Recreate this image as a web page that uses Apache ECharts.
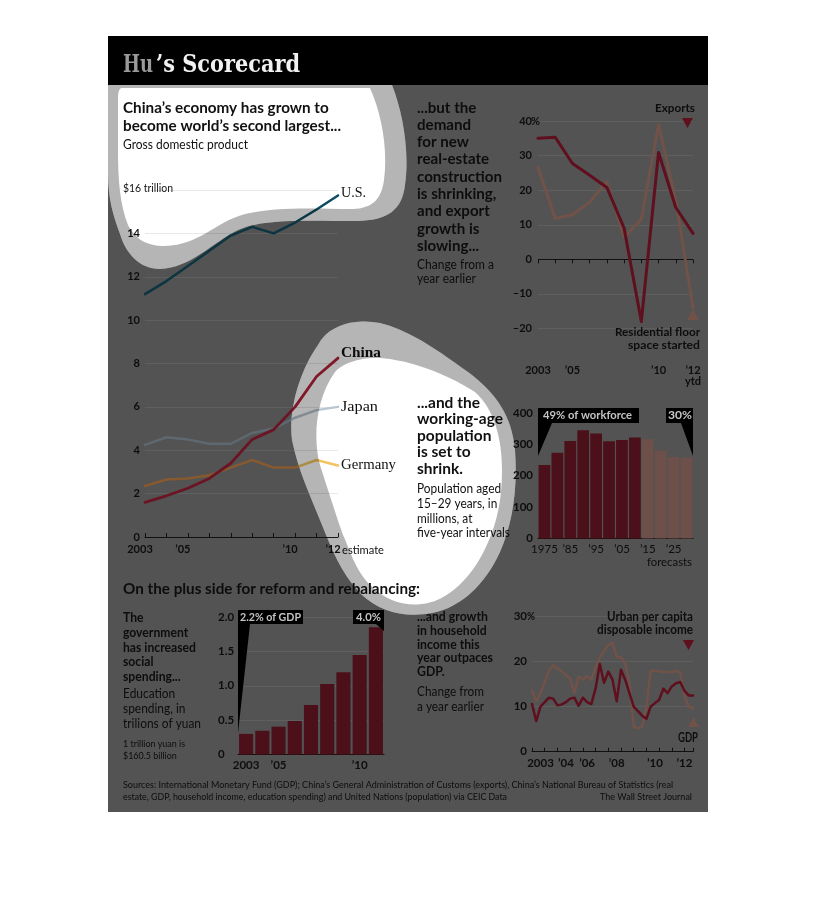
<!DOCTYPE html>
<html><head><meta charset="utf-8">
<script src="https://cdn.jsdelivr.net/npm/echarts@6/dist/echarts.min.js"></script>
<style>
html,body{margin:0;padding:0;background:#fff;}
#wrap{position:relative;width:816px;height:906px;overflow:hidden;}
.layer{position:absolute;left:0;top:0;width:816px;height:906px;}
</style></head>
<body><div id="wrap"><div id="dark" class="layer"></div><div id="light" class="layer"></div><div id="ring" class="layer"></div></div>
<script>
// ---------- DATA ----------
const gdpYears = ['2003','2004','2005','2006','2007','2008','2009','2010','2011','2012'];
const gdpTickLabels = {'2003':'2003','2005':'’05','2010':'’10','2012':'’12'};
const gdpUS      = [11.2, 11.8, 12.5, 13.2, 13.9, 14.3, 14.0, 14.5, 15.1, 15.75];
const gdpChina   = [1.6, 1.9, 2.25, 2.7, 3.4, 4.5, 4.95, 6.0, 7.4, 8.25];
const gdpJapan   = [4.25, 4.6, 4.5, 4.3, 4.3, 4.8, 5.0, 5.5, 5.85, 6.0];
const gdpGermany = [2.35, 2.65, 2.7, 2.85, 3.2, 3.55, 3.2, 3.2, 3.55, 3.3];

const expYears = ['2003','2004','2005','2006','2007','2008','2009','2010','2011','2012'];
const expTickLabels = {'2003':'2003','2005':'’05','2010':'’10','2012':'’12\nytd'};
const exportsGrowth     = [35.0, 35.3, 27.7, 24.3, 20.8, 9, -18, 30.9, 15, 7.5];
const residentialGrowth = [26.6, 11.8, 12.9, 16.5, 22.5, 6.4, 11.6, 39, 17, -14];

const popYears = ['1975','1980','1985','1990','1995','2000','2005','2010','2015','2020','2025','2030'];
const popTickLabels = {'1975':'1975','1985':'’85','1995':'’95','2005':'’05','2015':'’15','2025':'’25'};
const popValues = [234, 273, 311, 345, 335, 310, 314, 322, 316, 280, 260, 257];
const popForecastFrom = '2015';

const eduYears = ['2003','2004','2005','2006','2007','2008','2009','2010','2011'];
const eduTickLabels = {'2003':'2003','2005':'’05','2010':'’10'};
const eduValues = [0.3, 0.345, 0.405, 0.487, 0.72, 1.025, 1.196, 1.447, 1.85];

const hhQuarters = ['03Q1','03Q2','03Q3','03Q4','04Q1','04Q2','04Q3','04Q4','05Q1','05Q2','05Q3','05Q4',
  '06Q1','06Q2','06Q3','06Q4','07Q1','07Q2','07Q3','07Q4','08Q1','08Q2','08Q3','08Q4',
  '09Q1','09Q2','09Q3','09Q4','10Q1','10Q2','10Q3','10Q4','11Q1','11Q2','11Q3','11Q4','12Q1','12Q2','12Q3'];
const hhTickLabels = {'03Q3':'2003','05Q1':'’04','06Q2':'’06','08Q1':'’08','10Q2':'’10','12Q1':'’12'};
const hhUrban = [10.6,6.8,10,11,12,11.8,10.3,10.5,11,11.8,12,10.2,12,11,10.6,14,19.5,15.3,17.8,16,11.2,18.2,16,13,10,9,8,7.3,10,10.8,11.5,14,13,14.5,15.2,15.5,13.5,12.5,12.5];
const hhGDP   = [13.6,11.2,13,15.5,18,19.2,18.5,17.8,17,16.3,13,16.7,16,16.8,16,18.8,20.9,22.4,23.7,24.2,21,21,19.5,15.5,5.6,5.2,5.6,10,18,18,17.8,17.7,17.7,17.7,18,17.6,12.4,10,9.6];

// ---------- THEMES ----------
const TH = {
  dark:{bg:'#535353', text:'#0d0d0d', grid:'#5f5f5f', axis:'#111', us:'#0c3541', china:'#6b1424', japan:'#5d6870', germany:'#87592f',
        exp:'#5f0f1d', res:'#715249', bar:'#4b1019', barF:'#6d504a', callText:'#c4c4c4', hu:'#9a9a9a', title:'#f2f2f2'},
  light:{bg:'#ffffff', text:'#111', grid:'#e8e8e8', axis:'#222', us:'#0c4d62', china:'#b5223b', japan:'#b9c6d0', germany:'#f2c462',
        exp:'#a01c34', res:'#c09080', bar:'#7a1a28', barF:'#b08878', callText:'#fff', hu:'#9a9a9a', title:'#fff'}
};

const mctx = document.createElement('canvas').getContext('2d');
function fit(s, font, w){ mctx.font = font; const m = mctx.measureText(s).width; return m > 0 ? w / m : 1; }

function build(th){
  const G = [];
  const rect = (x,y,w,h,fill,z) => ({type:'rect', z:z, silent:true, shape:{x:x,y:y,width:w,height:h}, style:{fill:fill}});
  const poly = (pts, fill) => ({type:'polygon', z:90, silent:true, shape:{points:pts}, style:{fill:fill}});
  const text = (x,y,s,font,o) => { o = o || {}; const sx = o.w ? fit(s,font,o.w) : (o.sx || 1);
    return {type:'text', z:100, x:x, y:y, scaleX:sx, silent:true,
      style:{text:s, font:font, fill:o.fill || th.text, textAlign:o.align || 'left', textVerticalAlign:'middle'}}; };
  const block = (x,y0,dy,lines,font,refIdx,refW,o) => { const sx = fit(lines[refIdx],font,refW);
    lines.forEach((s,i) => G.push(text(x, y0 + dy*i, s, font, Object.assign({sx:sx}, o || {})))); };

  // frame
  G.push(rect(108,85,600,727,th.bg,-10));
  G.push(rect(108,36,600,49,'#000',-9));
  G.push(text(123,65,'Hu','bold 25px "DejaVu Serif"',{w:30, fill:th.hu}));
  G.push(text(156,65,'’s Scorecard','bold 25px "DejaVu Serif"',{w:144, fill:th.title}));

  // GDP block
  block(123,108,17.5,['China’s economy has grown to','become world’s second largest...'],'bold 16px Lato',1,218);
  G.push(text(123,145,'Gross domestic product','12.5px Lato',{w:125}));
  G.push(text(123,188,'$16 trillion','11px Lato',{w:50}));
  G.push(text(341,193,'U.S.','15px "Liberation Serif"',{w:25}));
  G.push(text(341,353,'China','bold 15px "Liberation Serif"',{w:40}));
  G.push(text(341,407,'Japan','15px "Liberation Serif"',{w:37}));
  G.push(text(341,465,'Germany','15px "Liberation Serif"',{w:55}));
  G.push(text(342,550,'estimate','11.5px Lato',{w:42}));

  // Exports block
  block(417,107.7,17.3,['...but the','demand','for new','real-estate','construction','is shrinking,','and export','growth is','slowing...'],'bold 15px Lato',4,85);
  block(417,265,14,['Change from a','year earlier'],'12.5px Lato',0,77);
  G.push(text(695,107.7,'Exports','bold 12px Lato',{w:40, align:'right'}));
  G.push(poly([[682,118],[693,118],[687.5,128]], th.exp));
  G.push(poly([[687,320],[699,320],[693,309]], th.res));
  G.push(text(700,332.3,'Residential floor','bold 12px Lato',{w:85, align:'right'}));
  G.push(text(700,345,'space started','bold 12px Lato',{w:72, align:'right'}));
  G.push(text(531,121,'%','bold 11px Lato',{w:9}));

  // Population block
  block(417,402.7,16.6,['...and the','working-age','population','is set to','shrink.'],'bold 15px Lato',1,86);
  block(417,489,14.8,['Population aged','15–29 years, in','millions, at','five-year intervals'],'12.5px Lato',3,93);
  G.push(text(692,561.7,'forecasts','12px Lato',{w:45, align:'right'}));
  G.push(poly([[538,408],[639,408],[639,423],[552,423],[538,456]],'#000'));
  G.push(poly([[666,408],[693,408],[693,456],[681,423],[666,423]],'#000'));
  G.push(text(543,415.5,'49% of workforce','bold 11.5px Lato',{w:89, fill:th.callText}));
  G.push(text(668,415.5,'30%','bold 11.5px Lato',{w:24, fill:th.callText}));

  G.push(text(123,589,'On the plus side for reform and rebalancing:','bold 15.5px Lato',{w:297}));

  // Education block
  block(123,617.3,14.85,['The','government','has increased','social','spending...'],'bold 14px Lato',2,73);
  block(123,694.3,15,['Education','spending, in','trilions of yuan'],'13px Lato',2,78);
  block(123,744.3,11.4,['1 trillion yuan is','$160.5 billion'],'9.5px Lato',0,62);
  G.push(poly([[238,610],[303,610],[303,624],[250,624],[238,733]],'#000'));
  G.push(poly([[353,610],[384,610],[384,631],[376,624],[353,624]],'#000'));
  G.push(text(240,617,'2.2% of GDP','bold 11.5px Lato',{w:61, fill:th.callText}));
  G.push(text(356,617,'4.0%','bold 11.5px Lato',{w:25, fill:th.callText}));

  // Household block
  block(417,616.7,13.75,['...and growth','in household','income this','year outpaces','GDP.'],'bold 14px Lato',3,76);
  block(417,691.7,15,['Change from','a year earlier'],'13px Lato',1,67);
  G.push(text(693,616.7,'Urban per capita','bold 12.5px Lato',{w:86, align:'right'}));
  G.push(text(693,630,'disposable income','bold 12.5px Lato',{w:96, align:'right'}));
  G.push(poly([[683,640],[694,640],[688.5,650]], th.exp));
  G.push(poly([[688,727],[699,727],[693.5,717]], th.res));
  G.push(text(698,738,'GDP','bold 12.5px Lato',{w:20, align:'right'}));
  G.push(text(527,616.7,'%','bold 11.5px Lato',{w:8}));

  // footer
  G.push(text(123,785.5,'Sources: International Monetary Fund (GDP); China’s General Administration of Customs (exports), China’s National Bureau of Statistics (real','9px Lato',{w:550}));
  G.push(text(123,797,'estate, GDP, household income, education spending) and United Nations (population) via CEIC Data','9px Lato',{w:384}));
  G.push(text(692,797,'The Wall Street Journal','9px Lato',{w:92, align:'right'}));

  const lab = (extra) => Object.assign({color:th.text, fontFamily:'Lato', fontWeight:'bold', fontSize:11}, extra);
  const line = (xi, data, color, w, z) => ({type:'line', xAxisIndex:xi, yAxisIndex:xi, data:data, symbol:'none', silent:true, z:z||2,
      lineStyle:{color:color, width:w, cap:'round', join:'round'}});
  const mapFmt = (m) => (v) => m[v] || '';

  return {
    animation:false,
    graphic:{elements:G},
    grid:[
      {left:145, top:190, width:193, height:347},
      {left:538, top:121, width:155, height:207.5},
      {left:538, top:413, width:155, height:125.5},
      {left:238, top:617, width:146, height:137.5},
      {left:532, top:616.7, width:161, height:135}
    ],
    xAxis:[
      {gridIndex:0, type:'category', data:gdpYears, boundaryGap:false,
       axisLine:{lineStyle:{color:th.axis}}, axisTick:{inside:true, length:4, lineStyle:{color:th.axis}},
       axisLabel:lab({interval:0, margin:7, padding:[0,10,0,0], formatter:mapFmt(gdpTickLabels)}), splitLine:{show:false}},
      {gridIndex:1, type:'category', data:expYears, boundaryGap:false, offset:30,
       axisLine:{show:false}, axisTick:{show:true, length:4, lineStyle:{color:th.axis}},
       axisLabel:lab({interval:0, margin:6, lineHeight:11, formatter:mapFmt(expTickLabels)}), splitLine:{show:false}},
      {gridIndex:2, type:'category', data:popYears, boundaryGap:true,
       axisLine:{lineStyle:{color:th.axis}}, axisTick:{show:false},
       axisLabel:lab({interval:0, margin:5, fontSize:11.5, fontWeight:'normal', formatter:mapFmt(popTickLabels)})},
      {gridIndex:3, type:'category', data:eduYears, boundaryGap:true,
       axisLine:{lineStyle:{color:th.axis}}, axisTick:{show:false},
       axisLabel:lab({interval:0, margin:5, fontSize:11.5, formatter:mapFmt(eduTickLabels)})},
      {gridIndex:4, type:'category', data:hhQuarters, boundaryGap:false,
       axisLine:{lineStyle:{color:th.axis}}, axisTick:{inside:true, length:4, interval:2, lineStyle:{color:th.axis}},
       axisLabel:lab({interval:0, margin:6, fontSize:11.5, formatter:mapFmt(hhTickLabels)})}
    ],
    yAxis:[
      {gridIndex:0, type:'value', min:0, max:16, interval:2, axisLine:{show:false}, axisTick:{show:false},
       axisLabel:lab({margin:5, formatter:(v) => v === 16 ? '' : String(v)}), splitLine:{lineStyle:{color:th.grid}}},
      {gridIndex:1, type:'value', min:-20, max:40, interval:10, axisLine:{show:false}, axisTick:{show:false},
       axisLabel:lab({margin:6, formatter:(v) => v < 0 ? '–' + (-v) : String(v)}),
       splitLine:{lineStyle:{color:[th.grid, th.grid, th.axis, th.grid, th.grid, th.grid, th.grid]}}},
      {gridIndex:2, type:'value', min:0, max:400, interval:100, axisLine:{show:false}, axisTick:{show:false},
       axisLabel:lab({margin:5, fontSize:11.5}), splitLine:{show:false}},
      {gridIndex:3, type:'value', min:0, max:2, interval:0.5, axisLine:{show:false}, axisTick:{show:false},
       axisLabel:lab({margin:20, align:'left', fontSize:11.5, formatter:(v) => v === 0 ? '0' : v.toFixed(1)}),
       splitLine:{lineStyle:{color:th.grid}}},
      {gridIndex:4, type:'value', min:0, max:30, interval:10, axisLine:{show:false}, axisTick:{show:false},
       axisLabel:lab({margin:5, fontSize:11.5}), splitLine:{lineStyle:{color:th.grid}}}
    ],
    series:[
      line(0, gdpUS, th.us, 2.5),
      line(0, gdpJapan, th.japan, 2.5),
      line(0, gdpGermany, th.germany, 2.5),
      line(0, gdpChina, th.china, 2.8, 3),
      line(1, residentialGrowth, th.res, 3),
      line(1, exportsGrowth, th.exp, 3, 3),
      {type:'bar', xAxisIndex:2, yAxisIndex:2, silent:true, barCategoryGap:'9%',
       data:popValues.map((v,i) => ({value:v, itemStyle:{color: popYears[i] >= popForecastFrom ? th.barF : th.bar}}))},
      {type:'bar', xAxisIndex:3, yAxisIndex:3, silent:true, barCategoryGap:'13%', itemStyle:{color:th.bar}, data:eduValues},
      line(4, hhGDP, th.res, 2.5),
      line(4, hhUrban, th.exp, 2.5, 3)
    ]
  };
}

// ---------- highlight shapes ----------
const outer1 = 'M108,85 L392,85 C402,110 410,150 405,185 C402,212 385,221 355,221 C315,221 262,218 238,230 C212,243 190,268 160,269 C140,269 126,254 120,234 C113,214 108,200 108,170 Z';
const inner1 = 'M122,88 L370,88 C382,115 388,150 384,180 C381,202 370,209 350,209 C320,209 280,206 245,214 C215,222 200,245 165,246 C145,246 135,238 128,225 C120,205 118,180 118,150 L118,100 C118,92 119,88 122,88 Z';
const outer2 = 'M318,345 C328,325 355,318 380,323 C410,330 440,352 468,372 C495,392 512,415 515,450 C518,490 512,525 500,552 C485,585 460,608 432,613 C405,618 380,612 362,595 C342,575 332,550 322,525 C310,495 298,470 292,440 C288,410 300,370 318,345 Z';
const inner2 = 'M335,372 C345,360 370,355 395,360 C420,364 450,376 475,392 C495,410 502,440 502,470 C502,505 495,530 483,553 C470,578 450,598 428,603 C405,608 385,600 370,585 C355,570 350,550 343,535 C335,512 328,490 320,465 C313,440 315,400 335,372 Z';

const lightEl = document.getElementById('light');
lightEl.style.clipPath = "path('" + outer1 + ' ' + outer2 + "')";
const ringEl = document.getElementById('ring');
ringEl.style.background = 'rgba(0,0,0,0.29)';
ringEl.style.clipPath = "path(evenodd, '" + outer1 + ' ' + inner1 + ' ' + outer2 + ' ' + inner2 + "')";

const cDark = echarts.init(document.getElementById('dark'), null, {renderer:'canvas', width:816, height:906});
cDark.setOption(build(TH.dark));
const cLight = echarts.init(lightEl, null, {renderer:'canvas', width:816, height:906});
cLight.setOption(build(TH.light));
</script></body></html>
